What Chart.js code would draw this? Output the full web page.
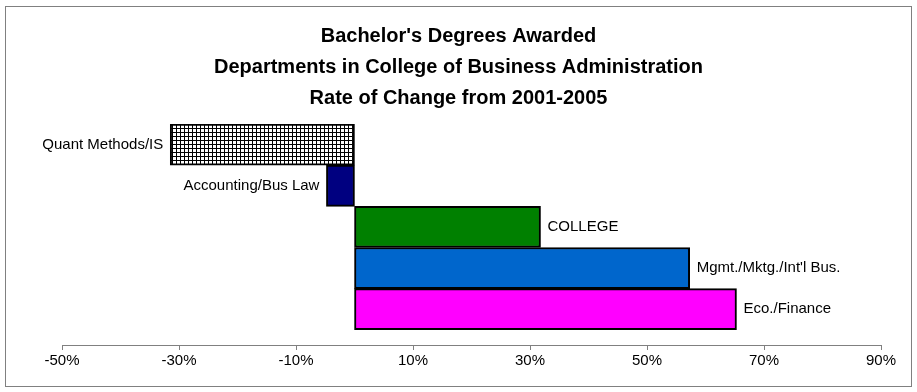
<!DOCTYPE html>
<html>
<head>
<meta charset="utf-8">
<title>Bachelor's Degrees Awarded</title>
<script src="https://cdn.jsdelivr.net/npm/chart.js@4.4.1/dist/chart.umd.min.js"></script>
<style>
	html, body { margin: 0; padding: 0; background: #fff; }
	#chart { display: block; }
</style>
</head>
<body>
<canvas id="chart" width="917" height="392"></canvas>
<script>
// Chart data
const titleLines = [
	"Bachelor's Degrees Awarded",
	'Departments in College of Business Administration',
	'Rate of Change from 2001-2005',
];
const departments = ['Quant Methods/IS', 'Accounting/Bus Law', 'COLLEGE', "Mgmt./Mktg./Int'l Bus.", 'Eco./Finance'];
const rateOfChange = [-31.5, -4.8, 31.8, 57.3, 65.3];
const xTickValues = [-50, -30, -10, 10, 30, 50, 70, 90];

Chart.defaults.font.family = '"Liberation Sans", Arial, sans-serif';
Chart.defaults.color = '#000';

// small crosshatch tile used for the first bar
function makeGridPattern(ctx) {
	const tile = document.createElement('canvas');
	tile.width = 4;
	tile.height = 4;
	const t = tile.getContext('2d');
	t.fillStyle = '#fff';
	t.fillRect(0, 0, 4, 4);
	t.fillStyle = '#000';
	t.fillRect(0, 0, 4, 1);
	t.fillRect(0, 0, 1, 4);
	return ctx.createPattern(tile, 'repeat');
}

// department name written beside each bar
const barLabels = {
	id: 'barLabels',
	afterDatasetsDraw(chart) {
		const ctx = chart.ctx;
		const meta = chart.getDatasetMeta(0);
		ctx.save();
		ctx.font = '15px "Liberation Sans", Arial, sans-serif';
		ctx.fillStyle = '#000';
		ctx.textBaseline = 'middle';
		meta.data.forEach((bar, i) => {
			const { x, y } = bar.getProps(['x', 'y'], true);
			if (rateOfChange[i] < 0) {
				ctx.textAlign = 'right';
				ctx.fillText(departments[i], x - 7, y);
			} else {
				ctx.textAlign = 'left';
				ctx.fillText(departments[i], x + 7, y);
			}
		});
		ctx.restore();
	},
};

// thin grey frame round the whole chart
const chartFrame = {
	id: 'chartFrame',
	afterDraw(chart) {
		const ctx = chart.ctx;
		ctx.save();
		ctx.strokeStyle = '#808080';
		ctx.lineWidth = 1;
		ctx.strokeRect(5.5, 6.5, 906, 380);
		ctx.restore();
	},
};

const canvas = document.getElementById('chart');
const ctx = canvas.getContext('2d');

const barColors = [makeGridPattern(ctx), '#000080', '#008000', '#0066CC', '#FF00FF'];

new Chart(ctx, {
	type: 'bar',
	data: {
		labels: departments,
		datasets: [
			{
				data: rateOfChange,
				backgroundColor: barColors,
				borderColor: '#000',
				borderWidth: 2,
				borderSkipped: false,
				barPercentage: 1,
				categoryPercentage: 1,
			},
		],
	},
	options: {
		indexAxis: 'y',
		responsive: false,
		devicePixelRatio: 1,
		animation: false,
		layout: {
			padding: { top: 11, left: 36, right: 36, bottom: 20 },
		},
		plugins: {
			legend: { display: false },
			tooltip: { enabled: false },
			title: {
				display: true,
				text: titleLines,
				color: '#000',
				font: { size: 20, weight: 'bold', lineHeight: 1.55 },
				padding: { top: 10, bottom: 10 },
			},
		},
		scales: {
			x: {
				min: xTickValues[0],
				max: xTickValues[xTickValues.length - 1],
				ticks: {
					stepSize: xTickValues[1] - xTickValues[0],
					callback: (value) => value + '%',
					color: '#000',
					font: { size: 15 },
					padding: 2,
					maxRotation: 0,
					autoSkip: false,
				},
				grid: {
					drawOnChartArea: false,
					drawTicks: true,
					tickLength: 5,
					color: '#808080',
				},
				border: { display: true, color: '#808080', width: 1 },
			},
			y: {
				// invisible axis, only there to keep room on the left
				display: true,
				ticks: { display: false },
				grid: { display: false },
				border: { display: false },
				afterFit: (scale) => {
					scale.width = 26;
				},
				// leave a little room between the last bar and the x axis
				afterBuildTicks: (scale) => {
					scale._valueRange += 0.37;
				},
			},
		},
	},
	plugins: [barLabels, chartFrame],
});
</script>
</body>
</html>
